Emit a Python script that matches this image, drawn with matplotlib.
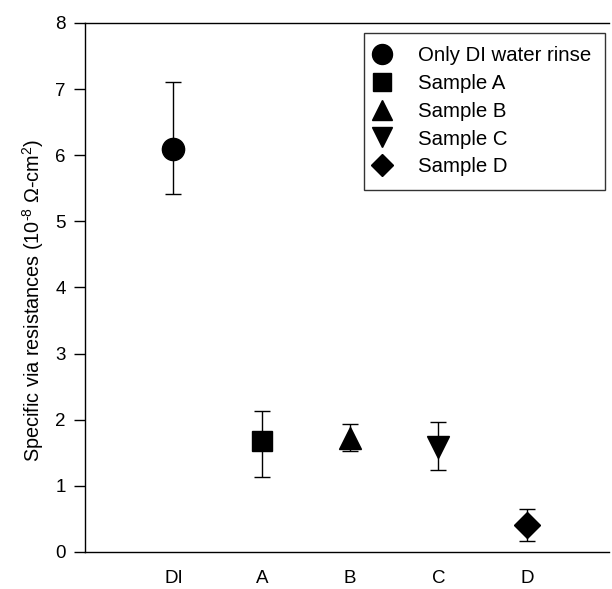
import numpy as np
import matplotlib.pyplot as plt

plt.rcParams['font.family'] = ['Liberation Sans', 'DejaVu Sans']
plt.rcParams['mathtext.fontset'] = 'custom'
plt.rcParams['mathtext.rm'] = 'Liberation Sans'
plt.rcParams['mathtext.it'] = 'Liberation Sans:italic'

# data
categorias = ["DI", "A", "B", "C", "D"]
nomes = ["Only DI water rinse", "Sample A", "Sample B", "Sample C", "Sample D"]
media = [6.1, 1.67, 1.72, 1.59, 0.41]
erro_sup = [7.1, 2.13, 1.94, 1.97, 0.65]
erro_inf = [5.42, 1.13, 1.52, 1.24, 0.17]
marcadores = ["o", "s", "^", "v", "D"]
tamanhos = [16, 14, 15.5, 15.5, 13]

fig = plt.figure(figsize=(6.12, 5.89), dpi=100)
ax = fig.add_axes([0.139, 0.063, 0.856, 0.898])

x = np.arange(1, len(categorias) + 1)
for i in range(len(categorias)):
    ax.errorbar(x[i], media[i],
                yerr=[[media[i] - erro_inf[i]], [erro_sup[i] - media[i]]],
                fmt='none', ecolor='black', elinewidth=1, capsize=5.5, capthick=1)
    ax.plot(x[i], media[i], marker=marcadores[i], ms=tamanhos[i], color='black',
            linestyle='none', label=nomes[i])

ax.set_xlim(0, 5.93)
ax.set_ylim(0, 8)
ax.set_xticks(x)
ax.set_xticklabels(categorias)
ax.set_yticks(range(0, 9))
ax.tick_params(axis='x', length=0, pad=13, labelsize=13.5)
ax.tick_params(axis='y', length=8, width=1, pad=6, labelsize=13.5, direction='out')
ax.spines['right'].set_visible(False)
for s in ['left', 'top', 'bottom']:
    ax.spines[s].set_linewidth(1)
ax.set_ylabel("Specific via resistances (10$^{\\text{-8}}$ $\\Omega$-cm$^{2}$)", fontsize=14.3)
ax.yaxis.set_label_coords(-0.074, 0.475)

leg = ax.legend(loc='upper right', bbox_to_anchor=(0.992, 0.981), fontsize=14.7, frameon=True,
                fancybox=False, edgecolor='black', markerscale=0.9, handlelength=0.5,
                handletextpad=1.5, labelspacing=0.43, borderpad=0.65, borderaxespad=0)
leg.get_frame().set_linewidth(1)

plt.savefig("out.png", dpi=100)
